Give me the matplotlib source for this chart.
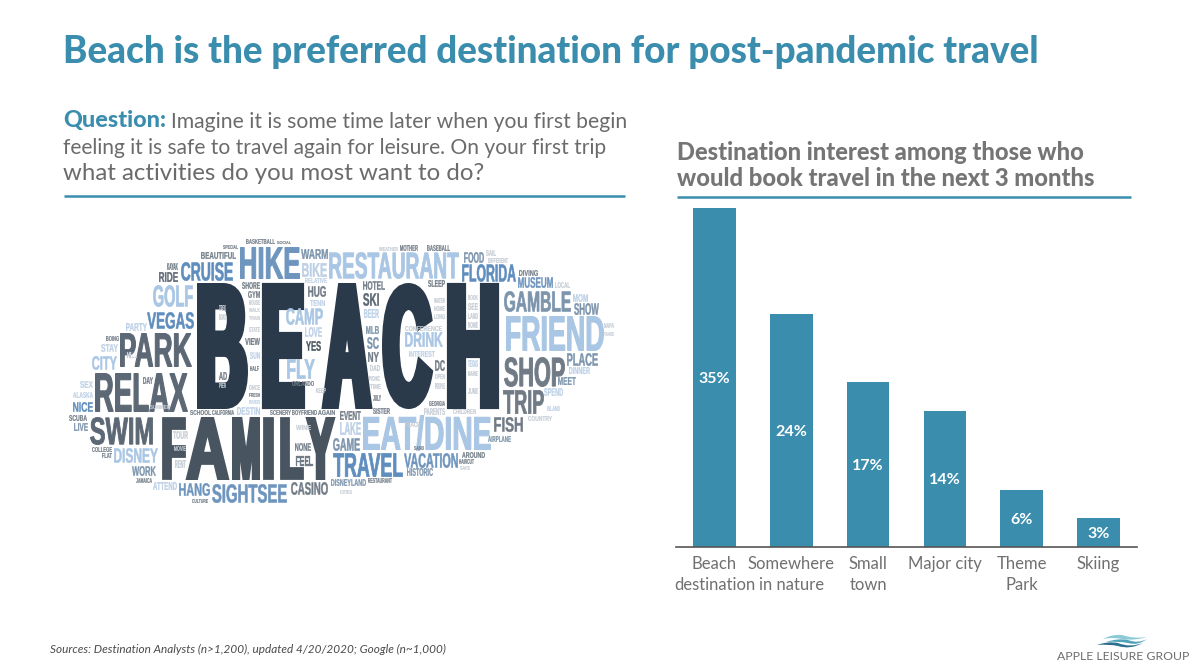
import matplotlib
matplotlib.use("Agg")
import matplotlib.pyplot as plt
from matplotlib.text import Text
from matplotlib.textpath import TextPath
from matplotlib.font_manager import FontProperties
from matplotlib.transforms import Affine2D, Bbox
from matplotlib.path import Path
from matplotlib.patches import PathPatch

categories = ["Beach\ndestination", "Somewhere\nin nature", "Small\ntown", "Major city", "Theme\nPark", "Skiing"]
shares = [35, 24, 17, 14, 5.8, 2.9]

TEAL = "#3B8DAE"
BEACH, FAM, SLATE, GRAY, STEEL, MID, BLUE, LIGHT, PALE, FAINT = (
    "#2B3A4A", "#48545F", "#5C6875", "#717B86", "#7C94AC", "#6E95BE",
    "#5E8DBE", "#A9C6E4", "#BDD0E6", "#C5CCD4")

# word cloud: word, left, top, right, bottom (reference pixels), colour
cloud = [
    ("BEACH", 197, 283, 499, 409, BEACH), ("FAMILY", 162, 417, 335, 480, FAM),
    ("RELAX", 95, 373, 188, 412, SLATE), ("PARK", 120, 333, 192, 367, SLATE),
    ("SWIM", 90, 417, 153, 445, SLATE), ("HIKE", 240, 247, 300, 279, MID),
    ("RESTAURANT", 329, 252, 459, 279, LIGHT), ("FRIEND", 506, 316, 604, 351, LIGHT),
    ("EAT/DINE", 363, 415, 491, 451, LIGHT), ("TRAVEL", 333, 453, 403, 477, BLUE),
    ("SHOP", 504, 357, 565, 387, GRAY), ("TRIP", 503, 390, 544, 414, GRAY),
    ("GAMBLE", 504, 291, 571, 312, STEEL), ("FLORIDA", 462, 264, 516, 282, BLUE),
    ("CRUISE", 181, 262, 233, 281, BLUE), ("VEGAS", 147, 312, 194, 329, BLUE),
    ("GOLF", 153, 285, 193, 307, LIGHT), ("CAMP", 286, 308, 323, 325, LIGHT),
    ("FLY", 287, 359, 315, 379, LIGHT), ("DISNEY", 114, 448, 158, 463, LIGHT),
    ("SIGHTSEE", 212, 484, 287, 503, MID), ("CASINO", 291, 482, 328, 495, GRAY),
    ("HANG", 179, 483, 210, 496, MID), ("VACATION", 404, 453, 458, 468, MID),
    ("DRINK", 405, 332, 443, 347, LIGHT), ("FISH", 494, 417, 523, 432, GRAY),
    ("PLACE", 567, 353, 598, 366, STEEL), ("GAME", 333, 438, 360, 451, STEEL),
    ("MUSEUM", 518, 277, 553, 288, MID), ("SHOW", 574, 303, 599, 315, STEEL),
    ("MEET", 558, 377, 576, 385, STEEL), ("FOOD", 464, 252, 484, 263, STEEL),
    ("BEAUTIFUL", 201, 252, 236, 259, GRAY), ("WARM", 301, 249, 328, 259, STEEL),
    ("BIKE", 302, 263, 327, 277, PALE), ("RIDE", 159, 272, 178, 282, SLATE),
    ("SHORE", 242, 282, 260, 289, GRAY), ("GYM", 248, 291, 260, 298, GRAY),
    ("HUG", 308, 286, 326, 297, GRAY), ("TENN", 310, 300, 325, 306, PALE),
    ("LOVE", 305, 327, 322, 337, PALE), ("YES", 306, 341, 321, 351, FAM),
    ("PARTY", 126, 323, 147, 331, PALE), ("STAY", 101, 344, 118, 352, PALE),
    ("CITY", 92, 356, 117, 370, LIGHT), ("DAY", 143, 377, 153, 384, GRAY),
    ("SEX", 80, 381, 93, 388, PALE), ("ALASKA", 73, 392, 93, 398, PALE),
    ("NICE", 73, 402, 93, 412, BLUE), ("SCUBA", 69, 415, 87, 421, GRAY),
    ("LIVE", 74, 423, 88, 431, STEEL), ("COLLEGE", 92, 447, 112, 452, GRAY),
    ("FLAT", 102, 453, 112, 458, GRAY), ("WORK", 132, 466, 156, 476, STEEL),
    ("TOUR", 173, 431, 188, 439, FAINT), ("ATTEND", 153, 482, 177, 490, PALE),
    ("FEEL", 296, 456, 313, 466, GRAY), ("NONE", 295, 443, 311, 451, GRAY),
    ("DESTIN", 237, 407, 260, 415, PALE), ("VIEW", 245, 338, 260, 345, GRAY),
    ("ORLANDO", 292, 381, 314, 386, GRAY), ("HOTEL", 363, 281, 385, 290, GRAY),
    ("SKI", 363, 293, 379, 306, SLATE), ("BEER", 364, 309, 379, 318, PALE),
    ("MLB", 366, 326, 379, 334, STEEL), ("SC", 367, 337, 379, 349, STEEL),
    ("NY", 368, 352, 379, 362, GRAY), ("SLEEP", 428, 280, 445, 287, GRAY),
    ("MOM", 573, 294, 588, 302, PALE), ("INTEREST", 409, 351, 435, 357, PALE),
    ("DC", 435, 360, 445, 371, GRAY), ("DINNER", 569, 367, 590, 374, PALE),
    ("SPEND", 544, 388, 563, 396, PALE), ("EVENT", 340, 411, 361, 420, GRAY),
    ("LAKE", 340, 422, 361, 435, PALE), ("AIRPLANE", 488, 436, 511, 442, STEEL),
    ("AROUND", 462, 452, 485, 458, GRAY), ("HAIRCUT", 459, 459, 474, 464, GRAY),
    ("HISTORIC", 407, 468, 433, 476, STEEL), ("DISNEYLAND", 331, 479, 366, 486, STEEL),
    ("RESTAURANT", 368, 478, 392, 483, GRAY), ("SISTER", 373, 408, 390, 414, GRAY),
    ("PARENTS", 424, 408, 445, 415, FAINT), ("CHILDREN", 453, 409, 476, 414, FAINT),
    ("SCHOOL", 190, 410, 211, 415, GRAY), ("CALIFORNIA", 212, 410, 234, 415, GRAY),
    ("SCENERY", 270, 410, 291, 415, GRAY), ("BOYFRIEND", 292, 410, 317, 415, GRAY),
    ("AGAIN", 318, 410, 335, 415, GRAY), ("BASKETBALL", 246, 239, 275, 244, GRAY),
    ("SOCIAL", 277, 241, 291, 244, GRAY), ("SPECIAL", 223, 245, 238, 249, GRAY),
    ("MOTHER", 400, 245, 418, 251, GRAY), ("BASEBALL", 427, 245, 450, 251, GRAY),
    ("WEATHER", 379, 247, 398, 251, FAINT), ("DIVING", 519, 270, 538, 276, GRAY),
    ("CULTURE", 192, 499, 208, 503, GRAY), ("KAYAK", 167, 263, 178, 270, GRAY),
    ("CONFERENCE", 405, 326, 442, 331, FAINT), ("BOING", 106, 336, 119, 341, GRAY),
    ("JAMAICA", 136, 478, 152, 483, GRAY), ("RELATIVE", 305, 278, 327, 283, PALE),
    ("HALF", 250, 366, 259, 371, GRAY), ("AD", 219, 372, 227, 380, GRAY),
    ("DAD", 370, 365, 380, 371, FAINT), ("SAND", 414, 446, 424, 450, GRAY),
    # the faint small words packed between the large letters
    ("HOUSE", 249, 300, 260, 305, FAINT), ("WALK", 249, 308, 260, 312, FAINT),
    ("TRAIN", 249, 316, 260, 320, FAINT), ("STATE", 249, 327, 260, 332, FAINT),
    ("SUN", 250, 352, 260, 359, PALE), ("ONCE", 249, 385, 260, 390, FAINT),
    ("FRESH", 249, 393, 260, 397, GRAY), ("RIVER", 249, 400, 260, 404, PALE),
    ("TREK", 219, 305, 226, 311, FAINT), ("BOAT", 219, 314, 226, 320, FAINT),
    ("PIER", 219, 383, 226, 388, FAINT), ("KEEP", 316, 388, 326, 393, FAINT),
    ("WATER", 434, 298, 445, 303, FAINT), ("HOME", 434, 306, 445, 311, FAINT),
    ("LONG", 434, 314, 445, 319, FAINT), ("OPEN", 435, 374, 445, 379, FAINT),
    ("PEOPLE", 435, 383, 445, 389, FAINT), ("GEORGIA", 429, 401, 445, 406, GRAY),
    ("BOOK", 468, 295, 478, 300, FAINT), ("SEE", 468, 303, 478, 310, FAINT),
    ("LAND", 468, 313, 478, 319, FAINT), ("ROME", 468, 322, 478, 328, FAINT),
    ("TEXAS", 468, 360, 478, 367, PALE), ("MAINE", 468, 371, 478, 376, FAINT),
    ("JUNE", 468, 388, 478, 394, FAINT), ("JULY", 373, 395, 381, 401, GRAY),
    ("PICNIC", 369, 376, 380, 381, FAINT), ("TIME", 370, 384, 381, 389, FAINT),
    ("HILL", 127, 352, 137, 358, FAINT), ("SUMMER", 150, 405, 170, 409, FAINT),
    ("MOVIE", 174, 446, 186, 451, FAINT), ("RENT", 175, 460, 186, 468, FAINT),
    ("WINE", 296, 425, 311, 430, FAINT), ("PEACE", 405, 422, 420, 427, FAINT),
    ("COUNTRY", 528, 416, 552, 421, FAINT), ("ISLAND", 547, 406, 560, 411, PALE),
    ("NAPA", 604, 323, 614, 328, FAINT), ("TAHOE", 604, 332, 614, 336, FAINT),
    ("LOCAL", 555, 282, 570, 288, FAINT), ("SAIL", 486, 250, 496, 256, FAINT),
    ("DIFFERENT", 488, 258, 508, 263, FAINT), ("SAFE", 460, 466, 470, 470, FAINT),
    ("CITIES", 340, 490, 352, 494, FAINT),
]

# horizontal extents of each letter of the largest words, which are set wide apart
letter_spans = {
    "BEACH": [(197, 248), (262, 305), (322, 372), (382, 433), (447, 499)],
    "FAMILY": [(162, 186), (186, 229), (232, 260), (263, 274), (280, 304), (306, 335)],
}
# stroke added around the glyphs, as a share of the word height
weight = {"BEACH": 0.065, "FAMILY": 0.06}


class FittedText(Text):
    """A text artist whose glyphs are scaled to fill a given pixel box."""

    def __init__(self, box, word, color, **kw):
        self.box = box
        x0, y0, x1, y1 = box
        # nominal size keeps the artist's own metrics inside its box
        px = min(y1 - y0, (x1 - x0) / (0.72 * len(word)))
        super().__init__((x0 + x1) / 2, (y0 + y1) / 2, word, color=color,
                         ha="center", va="center", fontsize=px * 0.45, **kw)

    def _corners(self):
        x0, y0, x1, y1 = self.box
        return self.axes.transData.transform([(x0, y1), (x1, y0)])

    def get_window_extent(self, renderer=None, dpi=None):
        return Bbox(self._corners())

    def _put(self, renderer, gc, fp, s, a, b, c, d, lw, rgba):
        path = TextPath((0, 0), s, size=100, prop=fp)
        ext = path.get_extents()
        tr = (Affine2D().translate(-ext.x0, -ext.y0)
              .scale((c - a - lw) / ext.width, (d - b - lw) / ext.height)
              .translate(a + lw / 2, b + lw / 2))
        renderer.draw_path(gc, path, tr, rgba)

    def draw(self, renderer):
        fp = FontProperties(family=["Liberation Sans Narrow", "Liberation Sans"], weight="bold")
        s = self.get_text()
        (a, b), (c, d) = self._corners()
        lw = (d - b) * weight.get(s, 0.03)
        rgba = matplotlib.colors.to_rgba(self.get_color())
        gc = renderer.new_gc()
        gc.set_linewidth(lw * 72 / 100)
        gc.set_foreground(rgba)
        gc.set_joinstyle("miter")
        if s in letter_spans and (self.box[3] - self.box[1]) > 50:
            to_px = self.axes.transData.transform
            for ch, (l, r) in zip(s, letter_spans[s]):
                self._put(renderer, gc, fp, ch, to_px((l, 0))[0], b, to_px((r, 0))[0], d, lw, rgba)
        else:
            self._put(renderer, gc, fp, s, a, b, c, d, lw, rgba)
        gc.restore()


fig = plt.figure(figsize=(12, 6.7), dpi=100, facecolor="white")
W, H = 1200, 670

page = fig.add_axes([0, 0, 1, 1])
page.set_xlim(0, W)
page.set_ylim(H, 0)
page.axis("off")

FONT = "Lato"
TEXT = "#6B6B6B"
renderer = fig.canvas.get_renderer()


def fitted(x0, x1, y, s, color, **kw):
    t = page.text(x0, y, s, color=color, family=FONT, ha="left", va="center", fontsize=20, **kw)
    w = t.get_window_extent(renderer).width
    t.set_fontsize(20 * (x1 - x0) / w)
    return t


fitted(63, 1041, 52, "Beach is the preferred destination for post-pandemic travel", TEAL, fontweight="black")
fitted(63, 166, 121, "Question:", TEAL, fontweight="black")
fitted(171, 626, 122, "Imagine it is some time later when you first begin", TEXT)
fitted(63, 609, 148, "feeling it is safe to travel again for leisure. On your first trip", TEXT)
fitted(63, 485, 174, "what activities do you most want to do?", TEXT)
fitted(677, 1085, 152, "Destination interest among those who", "#757575", fontweight="black")
fitted(677, 1095, 178, "would book travel in the next 3 months", "#757575", fontweight="black")
fitted(50, 445, 649, "Sources: Destination Analysts (n>1,200), updated 4/20/2020; Google (n~1,000)", "#4A4A4A", style="italic")
fitted(1057, 1190, 657, "APPLE LEISURE GROUP", "#6E6E6E")

page.plot([64, 625], [195.5, 195.5], color=TEAL, lw=1.8, solid_capstyle="butt")
page.plot([677, 1131], [196.5, 196.5], color=TEAL, lw=1.8, solid_capstyle="butt")

for word, x0, y0, x1, y1, col in cloud:
    page.add_artist(FittedText((x0, y0, x1, y1), word, col))


def wave(pts, color):
    codes = [Path.MOVETO] + [Path.CURVE3] * 8 + [Path.CLOSEPOLY]
    page.add_patch(PathPatch(Path(pts + [pts[0]], codes), fc=color, ec="none"))


wave([(1103, 639), (1112, 634), (1122, 635), (1134, 639), (1147, 637),
      (1134, 641), (1122, 639), (1112, 637), (1103, 639)], "#8CCBD6")
wave([(1106, 642), (1118, 638), (1128, 640), (1138, 644), (1147, 639),
      (1138, 646), (1128, 643), (1118, 641), (1106, 642)], "#4FA3B8")
wave([(1097, 645), (1108, 641), (1118, 643), (1130, 648), (1143, 643),
      (1130, 650), (1118, 646), (1108, 644), (1097, 645)], "#2C6F8F")

# bar chart
ax = fig.add_axes([676 / W, 1 - 546.5 / H, (1137 - 676) / W, 338.5 / H])
ax.set_xlim(676, 1137)
ax.set_ylim(0, 35)
centers = [714.5 + 76.8 * i for i in range(len(shares))]
ax.bar(centers, shares, width=42.5, color=TEAL)
for c, v in zip(centers, shares):
    ax.annotate(f"{round(v)}%", (c, v / 2), xytext=(0, -1.2), textcoords="offset points",
                color="white", family=FONT, fontweight="bold",
                fontsize=11.5, ha="center", va="center")
ax.set_xticks(centers, categories, family=FONT, fontsize=12, color="#707070", linespacing=1.4)
ax.tick_params(axis="x", length=0, pad=7)
ax.set_yticks([])
for s in ("top", "left", "right"):
    ax.spines[s].set_visible(False)
ax.spines["bottom"].set_color("#555555")
ax.spines["bottom"].set_linewidth(1.2)
ax.patch.set_alpha(0)

fig.savefig("out.png", dpi=100)
